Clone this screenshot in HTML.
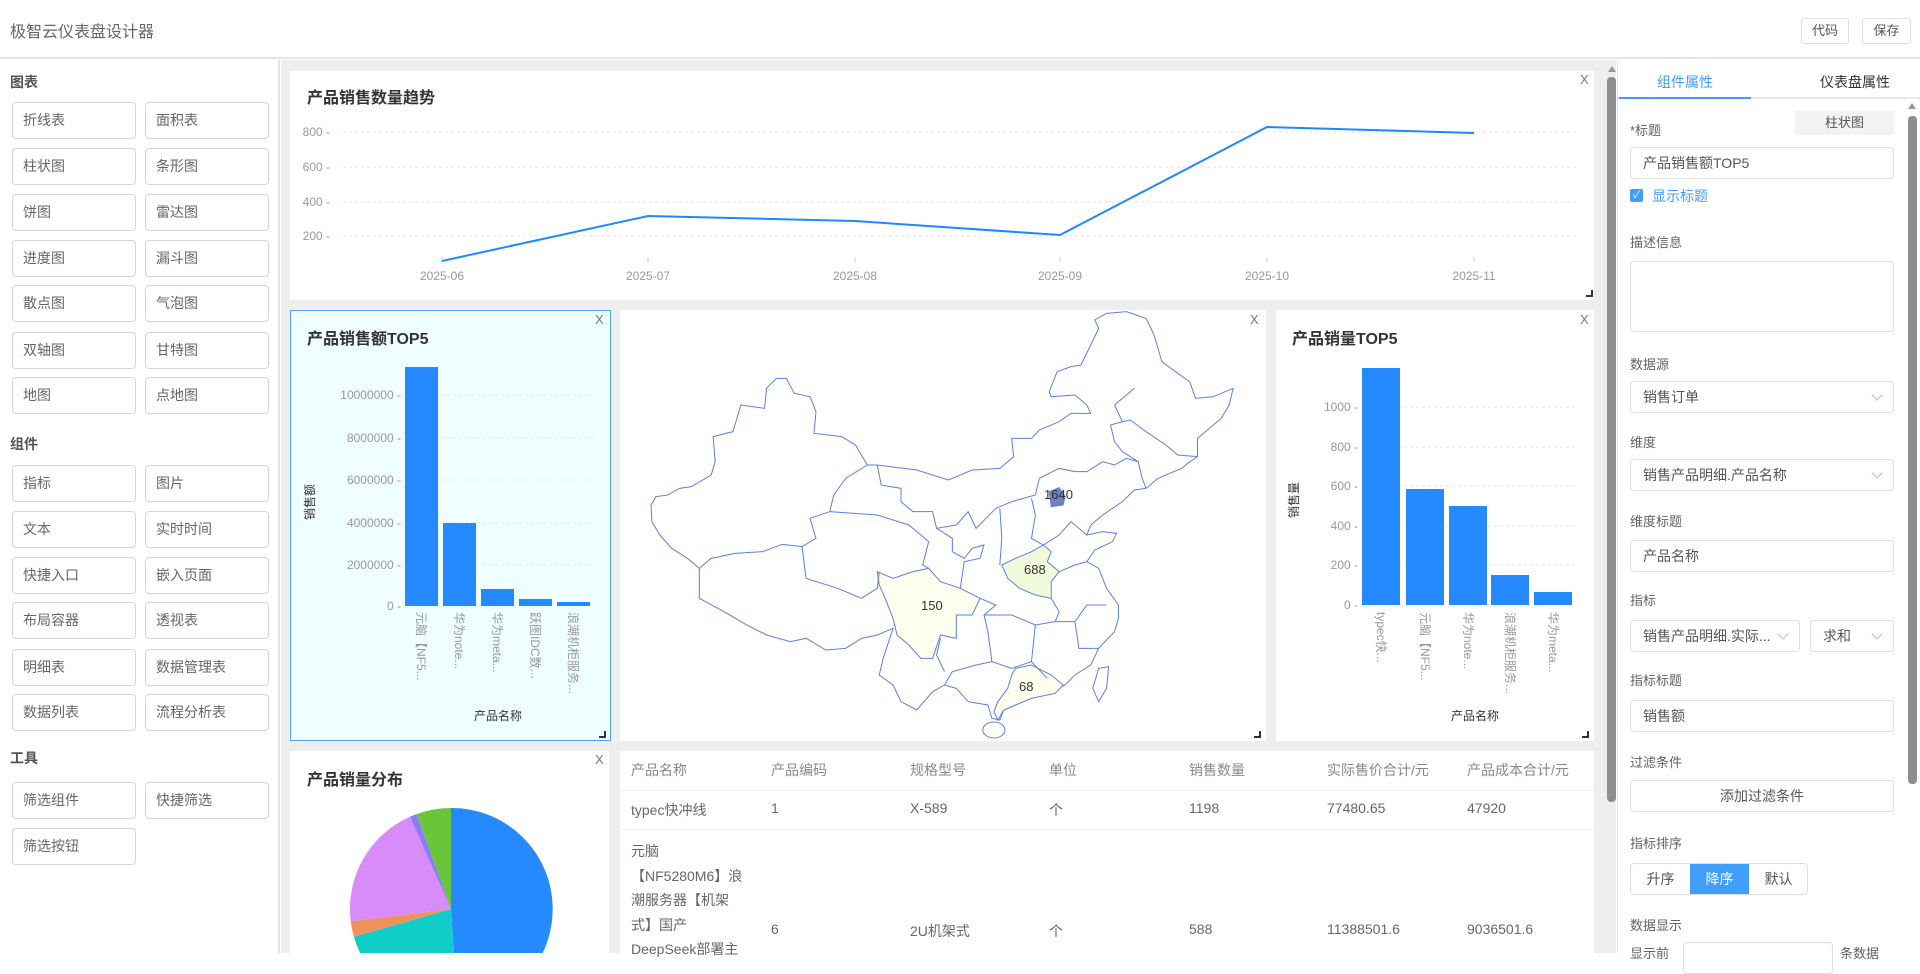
<!DOCTYPE html>
<html><head><meta charset="utf-8">
<style>
*{box-sizing:border-box;margin:0;padding:0}
body{width:1920px;height:953px;overflow:hidden;background:#fff;font-family:"Liberation Sans","Noto Sans CJK SC",sans-serif;color:#666;position:relative}
.a{position:absolute}
.hdr{left:0;top:0;width:1920px;height:59px;border-bottom:2px solid #e4e4e4;background:#fff}
.hbtn{top:18px;height:26px;border:1px solid #ddd;border-radius:3px;font-size:13px;line-height:24px;text-align:center;color:#555}
.side{left:0;top:60px;width:280px;height:893px;border-right:2px solid #e4e4e4;background:#fff}
.sh{font-size:14px;font-weight:bold;color:#555;left:10px}
.sb{width:124px;height:37px;border:1px solid #d6d6d6;border-radius:4px;font-size:14px;line-height:35px;padding-left:10px;color:#666;background:#fff}
.main{left:281px;top:60px;width:1335px;height:893px;background:#eee}
.pnl{background:#fff}
.ttl{font-size:16px;font-weight:bold;color:#333}
.x{font-size:13px;color:#777}
.rp{left:1617px;top:60px;width:303px;height:893px;background:#fff;border-left:1px solid #e4e4e4}
.lbl{font-size:13px;color:#606266;left:1630px}
.inp{left:1630px;width:264px;height:32px;border:1px solid #dcdfe6;border-radius:4px;font-size:14px;line-height:30px;padding-left:12px;color:#555;background:#fff}
.arr{position:absolute;right:12px;top:9px;width:8px;height:8px;border-right:1px solid #bbb;border-bottom:1px solid #bbb;transform:rotate(45deg)}
.td{font-size:14px;color:#666}
.th{font-size:14px;color:#888}
</style></head><body>
<div class="a hdr"></div>
<div class="a" style="left:10px;top:18px;font-size:16px;color:#666">极智云仪表盘设计器</div>
<div class="a hbtn" style="left:1801px;width:48px">代码</div>
<div class="a hbtn" style="left:1862px;width:49px">保存</div>

<div class="a side"></div>
<div class="a sh" style="top:72px">图表</div>
<div class="a sb" style="left:12px;top:102px">折线表</div><div class="a sb" style="left:145px;top:102px">面积表</div>
<div class="a sb" style="left:12px;top:148px">柱状图</div><div class="a sb" style="left:145px;top:148px">条形图</div>
<div class="a sb" style="left:12px;top:194px">饼图</div><div class="a sb" style="left:145px;top:194px">雷达图</div>
<div class="a sb" style="left:12px;top:240px">进度图</div><div class="a sb" style="left:145px;top:240px">漏斗图</div>
<div class="a sb" style="left:12px;top:285px">散点图</div><div class="a sb" style="left:145px;top:285px">气泡图</div>
<div class="a sb" style="left:12px;top:332px">双轴图</div><div class="a sb" style="left:145px;top:332px">甘特图</div>
<div class="a sb" style="left:12px;top:377px">地图</div><div class="a sb" style="left:145px;top:377px">点地图</div>
<div class="a sh" style="top:434px">组件</div>
<div class="a sb" style="left:12px;top:465px">指标</div><div class="a sb" style="left:145px;top:465px">图片</div>
<div class="a sb" style="left:12px;top:511px">文本</div><div class="a sb" style="left:145px;top:511px">实时时间</div>
<div class="a sb" style="left:12px;top:557px">快捷入口</div><div class="a sb" style="left:145px;top:557px">嵌入页面</div>
<div class="a sb" style="left:12px;top:602px">布局容器</div><div class="a sb" style="left:145px;top:602px">透视表</div>
<div class="a sb" style="left:12px;top:649px">明细表</div><div class="a sb" style="left:145px;top:649px">数据管理表</div>
<div class="a sb" style="left:12px;top:694px">数据列表</div><div class="a sb" style="left:145px;top:694px">流程分析表</div>
<div class="a sh" style="top:748px">工具</div>
<div class="a sb" style="left:12px;top:782px">筛选组件</div><div class="a sb" style="left:145px;top:782px">快捷筛选</div>
<div class="a sb" style="left:12px;top:828px">筛选按钮</div>

<div class="a main"></div>
<div class="a pnl" style="left:290px;top:71px;width:1304px;height:229px"></div>
<div class="a" style="left:290px;top:310px;width:321px;height:431px;background:#effefe;border:1px solid #4da3ff"></div>
<div class="a pnl" style="left:620px;top:310px;width:646px;height:431px"></div>
<div class="a pnl" style="left:1276px;top:310px;width:318px;height:431px"></div>
<div class="a pnl" style="left:290px;top:751px;width:319px;height:202px"></div>
<div class="a pnl" style="left:620px;top:751px;width:974px;height:202px"></div>
<div class="a" style="left:1608px;top:66px;width:0;height:0;border-left:4px solid transparent;border-right:4px solid transparent;border-bottom:6px solid #999"></div>
<div class="a" style="left:1607px;top:77px;width:9px;height:725px;background:#8e8e8e;border-radius:4px"></div>

<div class="a ttl" style="left:307px;top:84px">产品销售数量趋势</div>
<div class="a x" style="left:1580px;top:72px">X</div>
<div class="a ttl" style="left:307px;top:325px">产品销售额TOP5</div>
<div class="a x" style="left:595px;top:312px">X</div>
<div class="a x" style="left:1250px;top:312px">X</div>
<div class="a ttl" style="left:1292px;top:325px">产品销量TOP5</div>
<div class="a x" style="left:1580px;top:312px">X</div>
<div class="a ttl" style="left:307px;top:766px">产品销量分布</div>
<div class="a x" style="left:595px;top:752px">X</div>

<svg class="a" style="left:0;top:0" width="1920" height="953" font-family="Liberation Sans, Noto Sans CJK SC, sans-serif">
<g stroke="#e6e6e6" stroke-dasharray="3,3">
<line x1="343" y1="132" x2="1578" y2="132"/><line x1="343" y1="167" x2="1578" y2="167"/><line x1="343" y1="202" x2="1578" y2="202"/><line x1="343" y1="236" x2="1578" y2="236"/>
<line x1="405" y1="395" x2="594" y2="395"/><line x1="405" y1="438" x2="594" y2="438"/><line x1="405" y1="480" x2="594" y2="480"/><line x1="405" y1="523" x2="594" y2="523"/><line x1="405" y1="565" x2="594" y2="565"/>
<line x1="1362" y1="407" x2="1578" y2="407"/><line x1="1362" y1="447" x2="1578" y2="447"/><line x1="1362" y1="486" x2="1578" y2="486"/><line x1="1362" y1="526" x2="1578" y2="526"/><line x1="1362" y1="565" x2="1578" y2="565"/>
</g>
<g font-size="12" fill="#999" text-anchor="end">
<text x="330" y="136">800 -</text><text x="330" y="171">600 -</text><text x="330" y="206">400 -</text><text x="330" y="240">200 -</text>
<text x="401" y="399">10000000 -</text><text x="401" y="442">8000000 -</text><text x="401" y="484">6000000 -</text><text x="401" y="527">4000000 -</text><text x="401" y="569">2000000 -</text><text x="401" y="610">0 -</text>
<text x="1358" y="411">1000 -</text><text x="1358" y="451">800 -</text><text x="1358" y="490">600 -</text><text x="1358" y="530">400 -</text><text x="1358" y="569">200 -</text><text x="1358" y="609">0 -</text>
</g>
<g font-size="12" fill="#999" text-anchor="middle">
<text x="442" y="280">2025-06</text><text x="648" y="280">2025-07</text><text x="855" y="280">2025-08</text><text x="1060" y="280">2025-09</text><text x="1267" y="280">2025-10</text><text x="1474" y="280">2025-11</text>
</g>
<g stroke="#ccc"><line x1="442" y1="257" x2="442" y2="262"/><line x1="648" y1="257" x2="648" y2="262"/><line x1="855" y1="257" x2="855" y2="262"/><line x1="1060" y1="257" x2="1060" y2="262"/><line x1="1267" y1="257" x2="1267" y2="262"/><line x1="1474" y1="257" x2="1474" y2="262"/></g>
<polyline points="442,261 648,216 855,221 1060,235 1267,127 1474,133" fill="none" stroke="#1e88ff" stroke-width="2"/>
<g fill="#2589ff">
<rect x="405" y="367" width="33" height="239"/><rect x="443" y="523" width="33" height="83"/><rect x="481" y="589" width="33" height="17"/><rect x="519" y="599" width="33" height="7"/><rect x="557" y="602" width="33" height="4"/>
<rect x="1362" y="368" width="38" height="237"/><rect x="1406" y="489" width="38" height="116"/><rect x="1449" y="506" width="38" height="99"/><rect x="1491" y="575" width="38" height="30"/><rect x="1534" y="592" width="38" height="13"/>
</g>
<g font-size="12" fill="#999">
<text transform="translate(417,612) rotate(90)">元脑【NF5...</text>
<text transform="translate(455,612) rotate(90)">华为note...</text>
<text transform="translate(493,612) rotate(90)">华为meta...</text>
<text transform="translate(531,612) rotate(90)">跃图IDC数...</text>
<text transform="translate(569,612) rotate(90)">浪潮机柜服务...</text>
<text transform="translate(1377,612) rotate(90)">typec快...</text>
<text transform="translate(1421,612) rotate(90)">元脑【NF5...</text>
<text transform="translate(1464,612) rotate(90)">华为note...</text>
<text transform="translate(1506,612) rotate(90)">浪潮机柜服务...</text>
<text transform="translate(1549,612) rotate(90)">华为meta...</text>
</g>
<g font-size="12" fill="#333" text-anchor="middle">
<text x="498" y="720">产品名称</text><text x="1475" y="720">产品名称</text>
<text transform="translate(314,502) rotate(-90)">销售额</text>
<text transform="translate(1298,500) rotate(-90)">销售量</text>
</g>
<g stroke="#333" stroke-width="2" fill="none">
<polyline points="1592,290 1592,296 1586,296"/><polyline points="605,731 605,737 599,737"/><polyline points="1260,731 1260,737 1254,737"/><polyline points="1588,731 1588,737 1582,737"/>
</g>
<!-- pie -->
<g transform="translate(451,909)">
<path d="M0,0 L0,-101 A101,101 0 0,1 7,100.8 Z" fill="#2589ff"/>
<path d="M0,0 L7,100.8 A101,101 0 0,1 -97.1,27.8 Z" fill="#10cdc8"/>
<path d="M0,0 L-97.1,27.8 A101,101 0 0,1 -100.3,12.3 Z" fill="#ee915a"/>
<path d="M0,0 L-100.3,12.3 A101,101 0 0,1 -41.1,-92.3 Z" fill="#d88bfb"/>
<path d="M0,0 L-41.1,-92.3 A101,101 0 0,1 -34.5,-94.9 Z" fill="#8b7cf9"/>
<path d="M0,0 L-34.5,-94.9 A101,101 0 0,1 0,-101 Z" fill="#6bc53a"/>
</g>
</svg>

<!-- map -->
<svg class="a" style="left:640px;top:305px" width="620" height="440" viewBox="0 0 1568 1320" preserveAspectRatio="none">
<g stroke="#5b7fe8" stroke-width="1" vector-effect="non-scaling-stroke" fill="none">
<path vector-effect="non-scaling-stroke" d="M28,600 L40,575 70,570 100,550 130,545 180,510 190,470 185,395 235,380 255,300 315,310 320,250 345,220 370,220 390,265 430,275 445,320 440,385 510,395 545,420 575,480 600,480 700,495 780,525 840,495 910,490 945,455 940,400 990,400 1010,375 1060,350 1090,325 1140,325 1130,300 1100,270 1040,275 1035,260 1055,200 1090,185 1115,180 1140,120 1160,70 1150,45 1180,25 1230,20 1280,40 1300,90 1320,170 1360,205 1390,230 1405,280 1450,275 1500,250 1490,300 1470,340 1410,400 1410,455 1385,475 1370,490 1310,520 1280,550 1250,555 1220,590 1170,630 1140,660 1130,690 1170,680 1205,685 1195,710 1150,735 1130,770 1160,790 1180,850 1210,900 1210,940 1200,980 1160,1030 1140,1080 1100,1110 1075,1140 1040,1160 990,1180 960,1195 920,1215 910,1245 890,1240 880,1200 830,1190 800,1150 770,1140 740,1160 700,1215 660,1190 640,1140 605,1110 615,1060 640,970 600,990 560,1000 520,1030 470,1035 420,1000 380,1010 320,990 270,960 220,925 150,880 150,790 120,760 80,730 50,690 30,650 Z"/>
<path vector-effect="non-scaling-stroke" fill="#fefeee" d="M600,800 L640,820 690,800 730,790 760,830 810,850 860,880 840,930 800,930 800,1000 760,990 740,1060 710,1060 680,1020 650,990 640,940 620,880 605,840 Z"/>
<path vector-effect="non-scaling-stroke" fill="#f2fadc" d="M915,780 L950,760 990,740 1020,720 1040,740 1030,770 1060,800 1040,830 1040,880 1000,870 960,850 930,820 Z"/>
<path vector-effect="non-scaling-stroke" fill="#fefeee" d="M950,1090 L990,1080 1040,1110 1070,1140 1050,1165 990,1180 960,1195 920,1215 905,1245 895,1220 905,1190 930,1150 940,1110 Z"/>
<path vector-effect="non-scaling-stroke" fill="#6f82c6" d="M1035,560 L1060,548 1075,575 1070,600 1040,605 Z"/>
<path vector-effect="non-scaling-stroke" d="M150,790 L180,760 240,745 310,740 360,718 410,725 445,700 430,640 480,620 490,570 520,520 575,480"/>
<path vector-effect="non-scaling-stroke" d="M480,620 L600,630 680,660 730,710 715,780 730,790"/>
<path vector-effect="non-scaling-stroke" d="M410,725 L420,820 500,850 560,880 600,850 605,800"/>
<path vector-effect="non-scaling-stroke" d="M600,480 L610,540 660,550 660,590 690,620 740,620 750,670 800,660 830,620 850,670 900,610 940,590 1000,570 1010,520 1060,490 1100,500 1130,500 1170,470 1200,480 1230,460 1260,470 1270,520 1280,550"/>
<path vector-effect="non-scaling-stroke" d="M1250,250 L1200,300 1220,350 1190,360 1200,410 1220,440 1260,470"/>
<path vector-effect="non-scaling-stroke" d="M1220,350 L1240,345 1280,380 1330,420 1360,450 1410,455"/>
<path vector-effect="non-scaling-stroke" d="M750,670 L790,700 790,740 820,760 840,730 870,720 860,760 820,770 810,850"/>
<path vector-effect="non-scaling-stroke" d="M910,610 L915,700 910,780"/>
<path vector-effect="non-scaling-stroke" d="M990,580 L1000,630 990,700 1020,720 1060,690 1090,650 1130,690"/>
<path vector-effect="non-scaling-stroke" d="M1060,800 L1100,780 1130,770"/>
<path vector-effect="non-scaling-stroke" d="M1040,880 L1060,920 1050,950 1100,950 1130,900 1180,900"/>
<path vector-effect="non-scaling-stroke" d="M1100,950 L1110,1030 1160,1030"/>
<path vector-effect="non-scaling-stroke" d="M860,880 L900,900 870,930 880,980 890,1070"/>
<path vector-effect="non-scaling-stroke" d="M870,930 L940,930 1000,960 1050,950"/>
<path vector-effect="non-scaling-stroke" d="M1000,960 L990,1070 1030,1120"/>
<path vector-effect="non-scaling-stroke" d="M990,1070 L940,1090 890,1070 850,1080 790,1100 770,1140"/>
<path vector-effect="non-scaling-stroke" d="M760,1000 L750,1050 770,1100"/>
<path vector-effect="non-scaling-stroke" d="M1160,1090 L1185,1085 1180,1150 1160,1190 1145,1150 Z"/>
<ellipse vector-effect="non-scaling-stroke" cx="895" cy="1275" rx="28" ry="24"/>
</g>
</svg>
<div class="a" style="left:1044px;top:487px;font-size:13px;color:#333">1640</div>
<div class="a" style="left:1024px;top:562px;font-size:13px;color:#333">688</div>
<div class="a" style="left:921px;top:598px;font-size:13px;color:#333">150</div>
<div class="a" style="left:1019px;top:679px;font-size:13px;color:#333">68</div>

<!-- table -->
<div class="a" style="left:620px;top:790px;width:974px;height:1px;background:#ebeef5"></div>
<div class="a" style="left:620px;top:829px;width:974px;height:1px;background:#ebeef5"></div>
<div class="a th" style="left:631px;top:760px">产品名称</div>
<div class="a th" style="left:771px;top:760px">产品编码</div>
<div class="a th" style="left:910px;top:760px">规格型号</div>
<div class="a th" style="left:1049px;top:760px">单位</div>
<div class="a th" style="left:1189px;top:760px">销售数量</div>
<div class="a th" style="left:1327px;top:760px">实际售价合计/元</div>
<div class="a th" style="left:1467px;top:760px">产品成本合计/元</div>
<div class="a td" style="left:631px;top:800px">typec快冲线</div>
<div class="a td" style="left:771px;top:800px">1</div>
<div class="a td" style="left:910px;top:800px">X-589</div>
<div class="a td" style="left:1049px;top:800px">个</div>
<div class="a td" style="left:1189px;top:800px">1198</div>
<div class="a td" style="left:1327px;top:800px">77480.65</div>
<div class="a td" style="left:1467px;top:800px">47920</div>
<div class="a td" style="left:631px;top:839px;width:140px;line-height:24.5px">元脑<br>【NF5280M6】浪<br>潮服务器【机架<br>式】国产<br>DeepSeek部署主</div>
<div class="a td" style="left:771px;top:921px">6</div>
<div class="a td" style="left:910px;top:921px">2U机架式</div>
<div class="a td" style="left:1049px;top:921px">个</div>
<div class="a td" style="left:1189px;top:921px">588</div>
<div class="a td" style="left:1327px;top:921px">11388501.6</div>
<div class="a td" style="left:1467px;top:921px">9036501.6</div>

<!-- right panel -->
<div class="a rp"></div>
<div class="a" style="left:1618px;top:97px;width:302px;height:2px;background:#e4e7ed"></div>
<div class="a" style="left:1619px;top:97px;width:132px;height:2px;background:#409eff"></div>
<div class="a" style="left:1657px;top:72px;font-size:14px;color:#409eff">组件属性</div>
<div class="a" style="left:1820px;top:72px;font-size:14px;color:#303133">仪表盘属性</div>
<div class="a" style="left:1908px;top:103px;width:0;height:0;border-left:4px solid transparent;border-right:4px solid transparent;border-bottom:6px solid #999"></div>
<div class="a" style="left:1908px;top:116px;width:9px;height:668px;background:#8e8e8e;border-radius:4px"></div>
<div class="a lbl" style="top:120px">*标题</div>
<div class="a" style="left:1795px;top:111px;width:99px;height:24px;background:#f2f3f5;font-size:13px;line-height:24px;text-align:center;color:#555">柱状图</div>
<div class="a inp" style="top:147px">产品销售额TOP5</div>
<div class="a" style="left:1630px;top:189px;width:13px;height:13px;background:#409eff;border-radius:2px;color:#fff;font-size:10px;line-height:13px;text-align:center">✓</div>
<div class="a" style="left:1652px;top:186px;font-size:14px;color:#409eff">显示标题</div>
<div class="a lbl" style="top:232px">描述信息</div>
<div class="a inp" style="top:261px;height:71px"></div>
<div class="a lbl" style="top:354px">数据源</div>
<div class="a inp" style="top:381px">销售订单<span class="arr"></span></div>
<div class="a lbl" style="top:432px">维度</div>
<div class="a inp" style="top:459px">销售产品明细.产品名称<span class="arr"></span></div>
<div class="a lbl" style="top:511px">维度标题</div>
<div class="a inp" style="top:540px">产品名称</div>
<div class="a lbl" style="top:590px">指标</div>
<div class="a inp" style="top:620px;width:170px">销售产品明细.实际...<span class="arr"></span></div>
<div class="a inp" style="top:620px;left:1810px;width:84px">求和<span class="arr"></span></div>
<div class="a lbl" style="top:670px">指标标题</div>
<div class="a inp" style="top:700px">销售额</div>
<div class="a lbl" style="top:752px">过滤条件</div>
<div class="a inp" style="top:780px;text-align:center;padding-left:0">添加过滤条件</div>
<div class="a lbl" style="top:833px">指标排序</div>
<div class="a" style="left:1630px;top:863px;width:178px;height:32px;border:1px solid #dcdfe6;border-radius:4px;font-size:14px;line-height:30px;color:#555">
<span class="a" style="left:0;width:59px;text-align:center">升序</span>
<span class="a" style="left:59px;width:59px;height:30px;background:#409eff;color:#fff;text-align:center">降序</span>
<span class="a" style="left:118px;width:59px;text-align:center">默认</span></div>
<div class="a lbl" style="top:915px">数据显示</div>
<div class="a" style="left:1630px;top:943px;font-size:13px;color:#606266">显示前</div>
<div class="a" style="left:1683px;top:942px;width:150px;height:32px;border:1px solid #dcdfe6;border-radius:4px"></div>
<div class="a" style="left:1840px;top:943px;font-size:13px;color:#606266">条数据</div>
</body></html>
